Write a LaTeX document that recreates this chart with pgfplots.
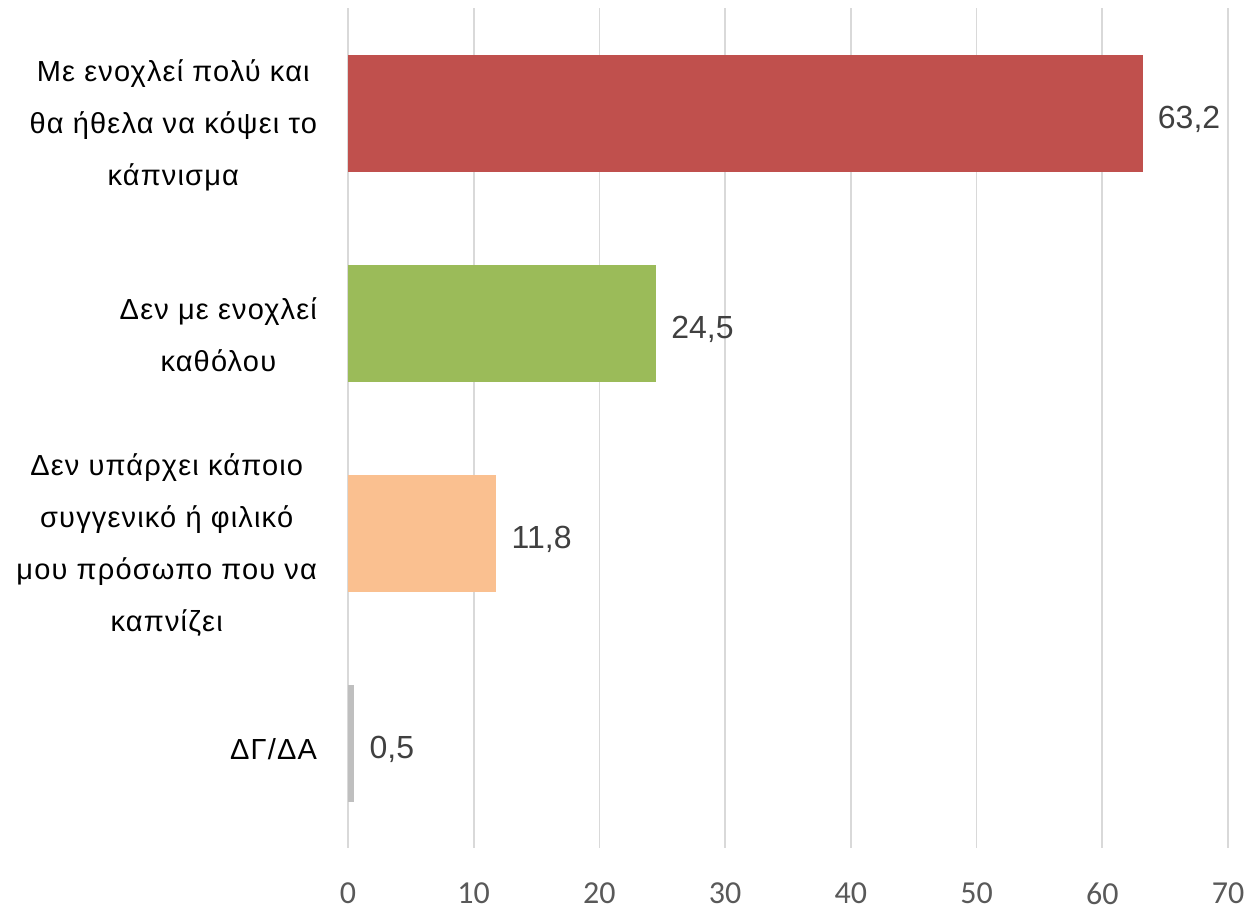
\documentclass[border=0pt]{standalone}
\usepackage{pgfplots}
\pgfplotsset{compat=1.18}
\usepackage{fontspec}
\setmainfont{Liberation Sans}
\newfontfamily\calib{Carlito}
\definecolor{cred}{HTML}{C0504D}
\definecolor{cgreen}{HTML}{9BBB59}
\definecolor{corange}{HTML}{FAC090}
\definecolor{cgray}{HTML}{BFBFBF}
\definecolor{gridc}{HTML}{D9D9D9}
\definecolor{tickc}{HTML}{595959}
\definecolor{labc}{HTML}{404040}
\begin{document}
\begin{tikzpicture}
\begin{axis}[
  name=ax,
  scale only axis,
  width=440pt, height=420pt,
  xbar, bar width=58.5pt, bar shift=0pt,
  xmin=0, xmax=70,
  ymin=-0.5, ymax=3.5,
  y dir=reverse,
  xtick={0,10,...,70},
  ytick={0,1,2,3},
  yticklabels={{Με ενοχλεί πολύ και\\θα ήθελα να κόψει το\\κάπνισμα},{Δεν με ενοχλεί\\καθόλου},{Δεν υπάρχει κάποιο\\συγγενικό ή φιλικό\\μου πρόσωπο που να\\καπνίζει},{\raisebox{6pt}{ΔΓ/ΔΑ}}},
  yticklabel style={align=center, font=\fontsize{14.5}{26}\selectfont\addfontfeature{LetterSpace=4}, text=black, xshift=-12pt, yshift=-6pt},
  xticklabel style={font=\calib\fontsize{16}{18}\selectfont, text=tickc, yshift=-14pt},
  /pgf/number format/assume math mode=true,
  major tick length=0pt,
  axis line style={draw=none},
  xmajorgrids, grid style={gridc, line width=0.8pt},
  nodes near coords,
  nodes near coords style={font=\fontsize{16}{18}\selectfont, text=labc, anchor=west, inner xsep=7.5pt, yshift=-3pt,
    /pgf/number format/.cd, fixed, fixed zerofill, precision=1, use comma, assume math mode=true},
  clip=false,
]
\addplot[fill=cred, draw=none] coordinates {(63.2,0)};
\addplot[fill=cgreen, draw=none] coordinates {(24.5,1)};
\addplot[fill=corange, draw=none] coordinates {(11.8,2)};
\addplot[fill=cgray, draw=none] coordinates {(0.5,3)};
\end{axis}
\pgfresetboundingbox
\path[use as bounding box] ([xshift=-174pt,yshift=-31pt]ax.south west) rectangle ([xshift=10pt,yshift=4pt]ax.north east);
\end{tikzpicture}
\end{document}
